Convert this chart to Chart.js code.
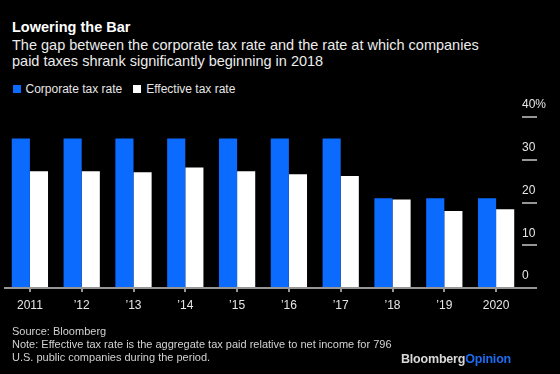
<!DOCTYPE html>
<html>
<head>
<meta charset="utf-8">
<script src="https://cdn.jsdelivr.net/npm/chart.js@4"></script>
<style>
  html, body { margin: 0; padding: 0; background: #000; }
  body { width: 560px; height: 374px; position: relative; overflow: hidden;
         font-family: "Liberation Sans", Arial, sans-serif; }
  canvas { position: absolute; left: 0; top: 0; }
  .txt { position: absolute; left: 12px; white-space: nowrap; }
  #title { top: 17.7px; font-size: 14.5px; line-height: 18px; font-weight: bold; color: #fff; }
  #subtitle { top: 36.6px; font-size: 14.5px; line-height: 16.7px; color: #ececec; }
  #legend { position: absolute; left: 12.5px; top: 82px; font-size: 12px; line-height: 15px; color: #e6e6e6; white-space: nowrap; }
  #legend .item { display: inline-block; margin-right: 11px; }
  #legend .box { display: inline-block; width: 8px; height: 8px; margin-right: 5px; vertical-align: 0px; }
  #footer { top: 324.6px; font-size: 11px; line-height: 13.3px; color: #d2d2d2; }
  #logo { position: absolute; right: 49px; top: 352px; font-size: 12.5px; font-weight: bold;
          color: #d8d8d8; letter-spacing: -0.2px; }
  #logo span { color: #1f6bf0; }
</style>
</head>
<body>
<div id="title" class="txt">Lowering the Bar</div>
<div id="subtitle" class="txt">The gap between the corporate tax rate and the rate at which companies<br>paid taxes shrank significantly beginning in 2018</div>
<div id="legend"></div>
<canvas id="chart" width="560" height="374"></canvas>
<div id="footer" class="txt">Source: Bloomberg<br>Note: Effective tax rate is the aggregate tax paid relative to net income for 796<br>U.S. public companies during the period.</div>
<div id="logo">Bloomberg<span>Opinion</span></div>

<script>
// values (percent)
const years = ['2011', '\u201912', '\u201913', '\u201914', '\u201915', '\u201916', '\u201917', '\u201918', '\u201919', '2020'];
const corporateRate = [35, 35, 35, 35, 35, 35, 35, 21, 21, 21];
const effectiveRate = [27.3, 27.3, 27.1, 28.2, 27.3, 26.6, 26.2, 20.7, 18.0, 18.4];
const yTickLabels = ['0', '10', '20', '30', '40%'];

const BLUE = '#0b6bff';
const AXIS = 'rgb(150, 150, 150)';

Chart.defaults.font.family = '"Liberation Sans", Arial, sans-serif';
Chart.defaults.font.size = 12;
Chart.defaults.color = '#e0e0e0';

const ctx = document.getElementById('chart').getContext('2d');

const chart = new Chart(ctx, {
  type: 'bar',
  data: {
    labels: years,
    datasets: [
      { label: 'Corporate tax rate', data: corporateRate, backgroundColor: BLUE, borderWidth: 0 },
      { label: 'Effective tax rate', data: effectiveRate, backgroundColor: '#ffffff', borderWidth: 0 }
    ]
  },
  options: {
    responsive: false,
    animation: false,
    categoryPercentage: 0.7,
    barPercentage: 1.0,
    layout: {
      padding: { left: 4, right: 14, top: 117, bottom: 55.6 }
    },
    plugins: {
      legend: { display: false },
      tooltip: { enabled: false }
    },
    scales: {
      x: {
        border: { display: false },
        grid: {
          offset: false,
          drawOnChartArea: false,
          drawTicks: true,
          tickLength: 4,
          color: AXIS,
          lineWidth: 2
        },
        ticks: {
          padding: 6,
          color: '#e6e6e6',
          font: { size: 12 },
          maxRotation: 0,
          autoSkip: false
        }
      },
      y: {
        position: 'right',
        min: 0,
        max: 40,
        border: { display: false },
        grid: {
          // only the zero line runs across the plot; every tick gets a short mark
          color: c => (c.tick && c.tick.value === 0 ? AXIS : 'rgba(0,0,0,0)'),
          tickColor: AXIS,
          tickLength: 15,
          lineWidth: 2
        },
        ticks: {
          stepSize: 10,
          autoSkip: false,
          padding: -15,
          crossAlign: 'near',
          color: '#e6e6e6',
          font: { size: 12, lineHeight: 2 },
          // empty second line lifts the label above its tick mark
          callback: (v, i) => [yTickLabels[i], '']
        },
        afterFit: s => { s.width = 24; }
      }
    }
  }
});

// legend built from the chart's own datasets
document.getElementById('legend').innerHTML = chart.data.datasets.map(d =>
  `<span class="item"><span class="box" style="background:${d.backgroundColor}"></span>${d.label}</span>`
).join('');
</script>
</body>
</html>
